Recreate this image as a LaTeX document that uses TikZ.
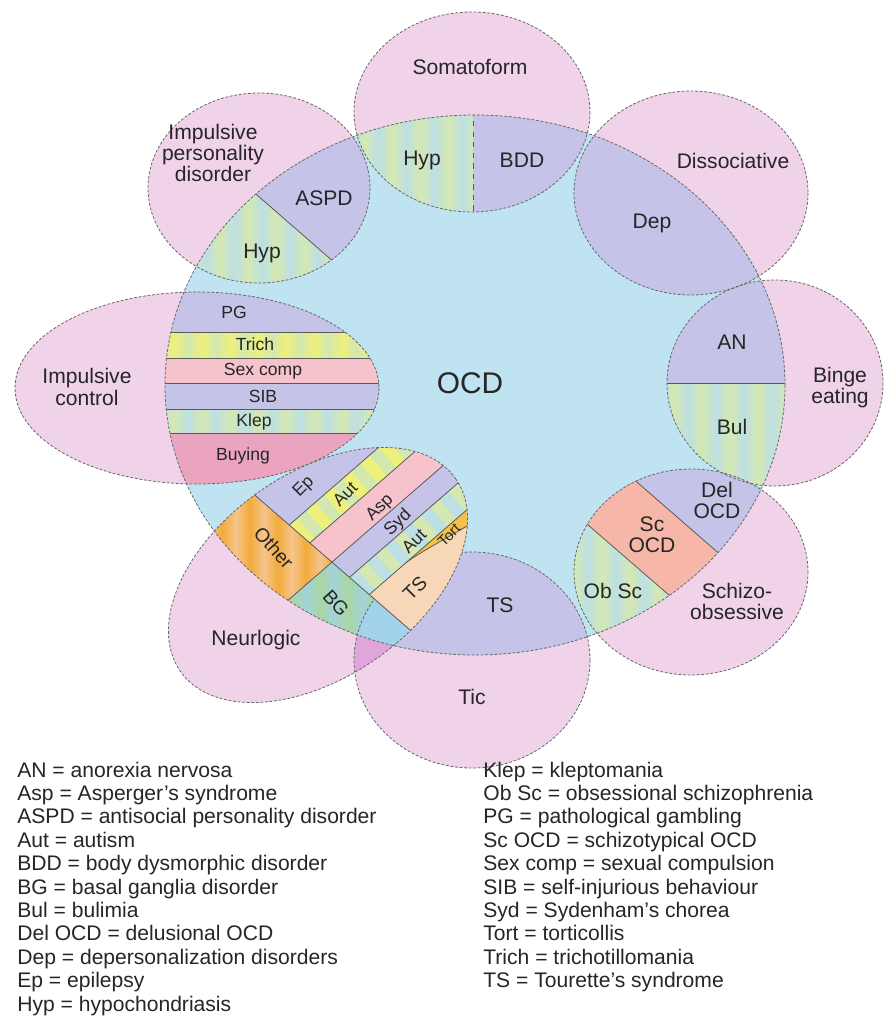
\documentclass[tikz,border=0pt]{standalone}
\usepackage{fontspec}
\setmainfont{Liberation Sans}

\definecolor{pinkc}{HTML}{F0D3E9}
\definecolor{ocdblue}{HTML}{BFE3F0}
\definecolor{lilacc}{HTML}{C5C3E7}
\definecolor{hypc}{HTML}{BCE0E3}
\definecolor{hypstr}{HTML}{D5E8B2}
\definecolor{trichc}{HTML}{D3E8B0}
\definecolor{trichstr}{HTML}{EDF07A}
\definecolor{sexc}{HTML}{F6C3CC}
\definecolor{buyc}{HTML}{EBA4C0}
\definecolor{otherc}{HTML}{F6C48C}
\definecolor{otherstr}{HTML}{F2AC3C}
\definecolor{bgc}{HTML}{A9D6A2}
\definecolor{bgstr}{HTML}{A3D3DA}
\definecolor{tsc}{HTML}{F8D7B8}
\definecolor{tortc}{HTML}{F4C24A}
\definecolor{scc}{HTML}{F6B7A8}
\definecolor{magc}{HTML}{DEA6DA}
\definecolor{nbluec}{HTML}{A2D3EA}

% soft vertical stripes: base, stripe, first x, second x, last x
\newcommand{\softstripes}[5]{%
  \foreach \sx in {#3,#4,...,#5}{%
    \shade[left color=#1, right color=#2] (\sx,0) rectangle ({\sx+14},1021);
    \shade[left color=#2, right color=#1] ({\sx+14},0) rectangle ({\sx+28},1021);
  }}
% stripes across a tilted band: colour, band start, band width
\newcommand{\bandstripes}[3]{%
  \foreach \st in {-224,-200,...,64}{%
    \fill[#1, rotate=41] (\st,#2) -- ({\st+12},#2) -- ({\st+12},{#2+#3}) -- (\st,{#2+#3}) -- cycle;
  }}

% group outlines (page pixels)
\def\ocdring{(475,385) ellipse (310 and 270)}
\def\somaring{(472,112) ellipse (118 and 100)}
\def\dissring{(691,193) ellipse (117 and 102)}
\def\bingering{(775,383) ellipse (108 and 103)}
\def\schizoring{(691,572) ellipse (117 and 103)}
\def\ticring{(472,660) ellipse (118 and 108)}
\def\ipdring{(259,188) ellipse (111 and 95)}
\def\impcring{(197,388) ellipse (182 and 96)}
\def\neuroring{[rotate around={35:(318,575)}] (318,575) ellipse (168 and 102)}

\begin{document}
\begin{tikzpicture}[x=0.02cm, y=-0.02cm,
    ring/.style={draw=black!60, line width=0.45pt, dash pattern=on 1.6pt off 1pt},
    divider/.style={draw=black!65, line width=0.45pt},
    grplbl/.style={font=\fontsize{12}{12}\selectfont, align=center, inner sep=0pt, text=black!85},
    bandlbl/.style={font=\fontsize{10}{10}\selectfont, inner sep=0pt, text=black!85},
    tiltlbl/.style={bandlbl, rotate=45},
    keyline/.style={font=\fontsize{12}{12}\selectfont, anchor=base west, inner sep=0pt, text=black!85}
]
\useasboundingbox (0,0) rectangle (885,1021);
\fill[white] (0,0) rectangle (885,1021);

% Groups round OCD
\fill[pinkc] \somaring \dissring \bingering \schizoring \ticring \ipdring \impcring;
\fill[pinkc] \neuroring;
\begin{scope}
  \clip \neuroring;
  \fill[magc] \ticring;
\end{scope}
\fill[ocdblue] \ocdring;

% Somatoform
\begin{scope}
  \clip \ocdring; \clip \somaring;
  \fill[lilacc] (300,0) rectangle (600,250);
  \begin{scope}
    \clip (300,0) rectangle (473,250);
    \softstripes{hypc}{hypstr}{350}{378}{462}
  \end{scope}
  \draw[divider, dashed] (473,100) -- (473,230);
\end{scope}

% Impulsive personality disorder
\begin{scope}
  \clip \ocdring; \clip \ipdring;
  \fill[lilacc] (140,80) rectangle (380,300);
  \begin{scope}
    \clip (101,59) -- (491,399) -- (100,450) -- (0,300) -- cycle;
    \softstripes{hypc}{hypstr}{150}{178}{346}
  \end{scope}
  \draw[divider] (101,59) -- (491,399);
\end{scope}

% Dissociative
\begin{scope}
  \clip \ocdring;
  \fill[lilacc] \dissring;
\end{scope}

% Binge eating
\begin{scope}
  \clip \ocdring; \clip \bingering;
  \fill[lilacc] (660,270) rectangle (890,383);
  \begin{scope}
    \clip (660,383) rectangle (890,500);
    \softstripes{hypc}{hypstr}{660}{688}{800}
  \end{scope}
  \draw[divider] (660,383) -- (890,383);
\end{scope}

% Schizo-obsessive
\begin{scope}
  \clip \ocdring; \clip \schizoring;
  \fill[lilacc] (560,460) rectangle (810,680);
  \fill[scc] (561,416) -- (792,617) -- (744,660) -- (513,460) -- cycle;
  \begin{scope}
    \clip (513,460) -- (744,660) -- (500,700) -- cycle;
    \softstripes{hypc}{hypstr}{560}{588}{680}
  \end{scope}
  \draw[divider] (561,416) -- (792,617);
  \draw[divider] (513,460) -- (744,660);
\end{scope}

% Tic
\begin{scope}
  \clip \ocdring;
  \fill[lilacc] \ticring;
\end{scope}

% Impulsive control
\begin{scope}
  \clip \ocdring; \clip \impcring;
  \fill[lilacc] (150,280) rectangle (400,332);
  \begin{scope}
    \clip (150,332) rectangle (400,358);
    \softstripes{trichc}{trichstr}{160}{188}{384}
  \end{scope}
  \fill[sexc] (150,358) rectangle (400,383);
  \fill[lilacc] (150,383) rectangle (400,409);
  \begin{scope}
    \clip (150,409) rectangle (400,433);
    \softstripes{hypc}{hypstr}{160}{188}{384}
  \end{scope}
  \fill[buyc] (150,433) rectangle (400,500);
  \foreach \yb in {332,358,383,409,433}
    \draw[divider] (150,\yb) -- (400,\yb);
\end{scope}

\draw[ring] \ticring;

% Neurologic
\begin{scope}
  \clip \ocdring; \clip \neuroring;
  % below the cross line: Other and BG
  \begin{scope}
    \clip[rotate=41] (-152.4,400) -- (-81.9,900) -- (-400,900) -- (-400,400) -- cycle;
    \softstripes{otherc}{otherstr}{180}{208}{420}
    \begin{scope}
      \clip[rotate=41] (-400,642) -- (400,642) -- (400,1000) -- (-400,1000) -- cycle;
      \softstripes{bgc}{bgstr}{180}{208}{420}
    \end{scope}
    \fill[nbluec] \ticring;
    \draw[ring] \ticring;
  \end{scope}
  % above the cross line: the bands
  \begin{scope}
    \clip[rotate=41] (-152.4,400) -- (-81.9,900) -- (400,900) -- (400,400) -- cycle;
    \fill[lilacc] (150,400) rectangle (500,700);
    \fill[trichc, rotate=41] (-400,586) -- (400,586) -- (400,613) -- (-400,613) -- cycle;
    \bandstripes{trichstr}{586}{27}
    \fill[sexc, rotate=41] (-400,613) -- (400,613) -- (400,642) -- (-400,642) -- cycle;
    \fill[hypc, rotate=41] (-400,665) -- (400,665) -- (400,691) -- (-400,691) -- cycle;
    \bandstripes{hypstr}{665}{26}
    \fill[tsc, rotate=41] (-400,691) -- (400,691) -- (400,1000) -- (-400,1000) -- cycle;
    \fill[tortc] (400,567.7) -- (480,498.1) -- (480,518) .. controls (455,534) and (430,546) .. (406,562.5) -- cycle;
    \foreach \sb in {586,613,665,691}
      \draw[divider, rotate=41] (-400,\sb) -- (400,\sb);
    \draw[divider] (480,518) .. controls (455,534) and (430,546) .. (406,562.5);
  \end{scope}
  \draw[divider, rotate=41] (-400,642) -- (400,642);
  \draw[divider, rotate=41] (-152.4,400) -- (-81.9,900);
\end{scope}

% Outlines
\draw[ring] \ocdring;
\draw[ring] \somaring;
\draw[ring] \dissring;
\draw[ring] \bingering;
\draw[ring] \schizoring;
\draw[ring] \ipdring;
\draw[ring] \impcring;
\draw[ring] \neuroring;

% Labels
\node[grplbl] (soma) at (470,67) {Somatoform};
\node[grplbl] (ipd) at (213,153) {Impulsive\\personality\\disorder};
\node[grplbl] (hypa) at (422,160) {Hyp};
\node[grplbl] (bdd) at (522,160) {BDD};
\node[grplbl] (aspd) at (324,198) {ASPD};
\node[grplbl] (hypb) at (262,253) {Hyp};
\node[grplbl] (diss) at (733,161) {Dissociative};
\node[grplbl] (dep) at (652,223) {Dep};
\node[grplbl] (an) at (732,342) {AN};
\node[grplbl] (bul) at (732,427) {Bul};
\node[grplbl] (binge) at (840,388) {Binge\\eating};
\node[grplbl, font=\fontsize{17}{17}\selectfont] (ocd) at (470,383) {OCD};
\node[grplbl] (impc) at (87,387) {Impulsive\\control};
\node[bandlbl] (pg) at (234,312) {PG};
\node[bandlbl] (trich) at (255,344) {Trich};
\node[bandlbl] (sexcomp) at (263,371) {Sex comp};
\node[bandlbl] (sib) at (263,396) {SIB};
\node[bandlbl] (klep) at (254,422) {Klep};
\node[bandlbl] (buying) at (243,456) {Buying};
\node[tiltlbl] (ep) at (304,487) {Ep};
\node[tiltlbl] (auta) at (345,494) {Aut};
\node[tiltlbl] (asp) at (380,508) {Asp};
\node[tiltlbl] (syd) at (398,523) {Syd};
\node[tiltlbl] (autb) at (414,541) {Aut};
\node[tiltlbl, font=\fontsize{8.5}{8.5}\selectfont] (tort) at (449,535) {Tort};
\node[grplbl, font=\fontsize{11}{11}\selectfont, rotate=45] (tsb) at (415,588) {TS};
\node[grplbl, font=\fontsize{11}{11}\selectfont, rotate=-48] (other) at (274,548) {Other};
\node[grplbl, font=\fontsize{11}{11}\selectfont, rotate=-48] (bg) at (336,603) {BG};
\node[grplbl] (neuro) at (256,640) {Neurlogic};
\node[grplbl] (tsa) at (500,605) {TS};
\node[grplbl] (tic) at (472,697) {Tic};
\node[grplbl] (del) at (717,500) {Del\\OCD};
\node[grplbl] (sc) at (652,535) {Sc\\OCD};
\node[grplbl] (obsc) at (613,591) {Ob Sc};
\node[grplbl] (schizo) at (737,601) {Schizo-\\obsessive};

% Legend
\foreach \entry [count=\i] in {AN = anorexia nervosa, Asp = Asperger's syndrome,
    ASPD = antisocial personality disorder, Aut = autism, BDD = body dysmorphic disorder,
    BG = basal ganglia disorder, Bul = bulimia, Del OCD = delusional OCD,
    Dep = depersonalization disorders, Ep = epilepsy, Hyp = hypochondriasis}
  \node[keyline] (keya\i) at (17,{777+23.4*(\i-1)}) {\entry};
\foreach \entry [count=\i] in {Klep = kleptomania, Ob Sc = obsessional schizophrenia,
    PG = pathological gambling, Sc OCD = schizotypical OCD, Sex comp = sexual compulsion,
    SIB = self-injurious behaviour, Syd = Sydenham's chorea, Tort = torticollis,
    Trich = trichotillomania, TS = Tourette's syndrome}
  \node[keyline] (keyb\i) at (483,{777+23.4*(\i-1)}) {\entry};

\end{tikzpicture}
\end{document}
